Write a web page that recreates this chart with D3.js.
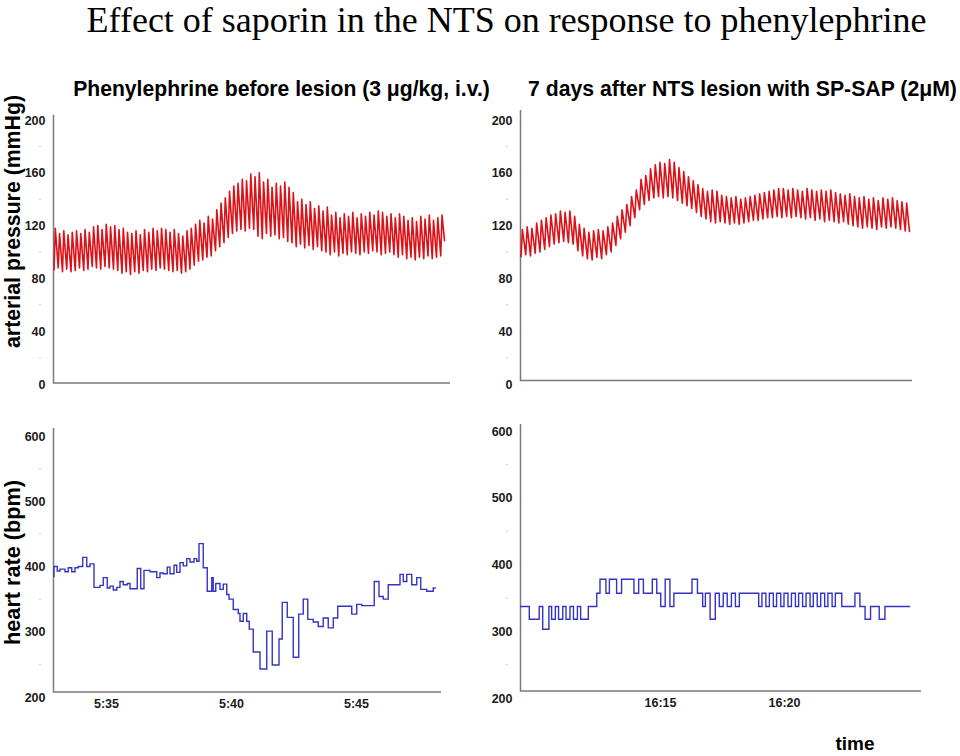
<!DOCTYPE html>
<html><head><meta charset="utf-8">
<script src="https://cdn.jsdelivr.net/npm/d3@7"></script>
<style>body{margin:0;background:#fff}svg{display:block}</style>
</head><body>
<svg id="c" width="960" height="756"></svg>
<script>
// ---------- data ----------
const bpTicks = [0, 40, 80, 120, 160, 200];
const bpMinor = [20, 60, 100, 140, 180];
const hrTicks = [200, 300, 400, 500, 600];
const hrMinor = [250, 350, 450, 550];
const leftTimeTicks = [35, 40, 45];
const leftTimeLabels = ["5:35", "5:40", "5:45"];
const rightTimeTicks = [15, 20];
const rightTimeLabels = ["16:15", "16:20"];

// arterial pressure, per beat: systolic peaks and diastolic troughs (mmHg)
const bpLeftSys = [118,114,116,113,115,116,114,117,115,119,120,117,121,119,120,117,118,115,114,116,
  113,117,115,118,116,118,117,115,117,114,112,116,118,121,124,122,127,125,132,137,
  141,146,150,152,155,154,159,157,160,153,155,149,152,150,153,149,145,138,140,136,
  138,133,135,131,134,128,130,126,129,127,130,126,129,127,130,128,131,130,127,129,
  126,129,127,124,126,123,127,125,128,124,126,128];
const bpLeftDia = [86,88,85,87,85,86,88,86,87,89,88,87,89,88,87,86,84,85,83,85,
  84,86,85,87,86,88,87,86,85,86,84,85,87,90,93,94,96,97,101,104,
  107,111,114,116,117,116,118,117,112,110,114,112,113,110,111,108,107,104,106,103,
  105,102,104,101,100,98,100,97,99,98,100,99,98,100,99,101,100,98,99,100,
  98,96,98,95,96,94,96,95,97,95,96,97];
const bpLeftEnd = 108;
const bpRightSys = [117,119,118,122,124,126,128,129,131,130,131,127,121,118,115,116,117,116,119,122,
  127,132,136,142,147,155,158,163,166,168,167,170,168,164,161,157,154,151,148,146,
  147,146,143,142,141,142,140,141,142,143,144,145,146,147,148,148,147,148,147,146,
  148,147,146,147,146,147,145,144,143,144,142,141,142,140,141,139,141,140,141,139,
  138,137];
const bpRightDia = [96,98,97,99,100,102,104,106,107,108,107,106,101,97,95,94,96,95,98,100,
  105,110,115,120,126,132,136,139,141,142,141,142,141,139,137,135,133,130,127,125,
  123,122,123,122,121,122,121,122,123,124,124,125,126,126,127,126,127,126,127,126,
  125,126,124,125,123,124,123,122,123,121,120,119,118,119,118,117,119,118,119,118,
  117,116];
const bpRightEnd = 115;

// heart rate steps: time (minutes past the hour) and value (bpm)
const hrLeftT = [32.89,32.92,33.05,33.16,33.36,33.49,33.63,33.76,33.89,34.07,34.23,34.36,34.52,34.76,34.89,
  35.05,35.16,35.29,35.43,35.56,35.69,35.85,35.96,36.25,36.39,36.52,36.76,37.03,37.16,37.29,37.45,37.56,
  37.72,37.83,37.96,38.09,38.23,38.36,38.52,38.63,38.72,38.89,39.05,39.23,39.29,39.39,39.56,39.69,39.83,
  39.92,40.09,40.29,40.36,40.49,40.63,40.73,40.89,41.16,41.43,41.65,41.92,42.05,42.25,42.49,42.71,42.89,
  43.07,43.29,43.49,43.69,43.89,44.09,44.27,44.83,45.03,45.23,45.73,45.92,46.09,46.29,46.76,46.89,47.03,
  47.23,47.43,47.59,47.83,48.09,48.19];
const hrLeftV = [385,400,393,396,392,398,392,398,400,414,400,404,368,371,383,367,370,364,368,377,372,374,366,
  397,366,394,392,383,390,389,399,389,402,391,406,401,412,407,412,408,435,398,362,383,362,374,365,373,357,
  350,334,328,316,328,316,304,269,243,301,249,289,345,322,261,327,350,319,315,308,321,306,321,339,327,342,
  340,377,354,350,372,388,377,388,372,383,365,362,367,367];
const hrRightT = [9.355,9.73,10.13,10.27,10.52,10.63,10.78,10.91,11.08,11.21,11.37,11.51,11.67,11.80,12.11,
  12.45,12.58,12.82,12.96,13.25,13.45,13.95,14.14,14.33,14.69,14.87,15.03,15.21,15.40,15.56,16.29,16.51,
  16.72,16.83,17.02,17.23,17.39,17.55,17.71,17.88,18.04,18.20,18.98,19.11,19.27,19.41,19.57,19.70,19.87,
  20.00,20.16,20.30,20.46,20.59,20.75,20.89,21.05,21.18,21.34,21.48,21.64,21.77,21.94,22.07,22.33,22.86,
  23.06,23.27,23.49,23.84,24.07,25.08];
const hrRightV = [337,318,337,303,337,318,337,318,337,318,337,318,337,318,337,357,378,357,378,357,378,357,
  378,357,378,357,337,378,337,357,378,357,337,357,318,357,337,357,337,357,337,357,337,357,337,357,337,357,
  337,357,337,357,337,357,337,357,337,357,337,357,337,357,337,357,337,357,337,318,337,318,337,337];

// ---------- drawing ----------
const svg = d3.select("#c");
const SANS = "'Liberation Sans', Arial, Helvetica, sans-serif";
const RED = "#dc1219", BLUE = "#3434c4", AXIS = "#7a7a7a";

function fit(sel, target) {
  const len = sel.node().getComputedTextLength();
  sel.attr("font-size", parseFloat(sel.attr("font-size")) * target / len);
}

// main title
fit(svg.append("text").attr("x", 506.5).attr("y", 32).attr("text-anchor", "middle")
  .attr("font-family", "'Liberation Serif', 'Times New Roman', serif").attr("font-size", 32)
  .text("Effect of saporin in the NTS on response to phenylephrine"), 840);

// panel titles
fit(svg.append("text").attr("x", 281.5).attr("y", 96).attr("text-anchor", "middle")
  .attr("font-family", SANS).attr("font-weight", "bold").attr("font-size", 19)
  .text("Phenylephrine before lesion (3 \u03BCg/kg, i.v.)"), 417);
fit(svg.append("text").attr("x", 742.5).attr("y", 96).attr("text-anchor", "middle")
  .attr("font-family", SANS).attr("font-weight", "bold").attr("font-size", 19)
  .text("7 days after NTS lesion with SP-SAP (2\u03BCM)"), 429);

// rotated y titles
fit(svg.append("text").attr("transform", "translate(20,221.5) rotate(-90)").attr("text-anchor", "middle")
  .attr("font-family", SANS).attr("font-weight", "bold").attr("font-size", 24)
  .text("arterial pressure (mmHg)"), 253);
fit(svg.append("text").attr("transform", "translate(20,562.5) rotate(-90)").attr("text-anchor", "middle")
  .attr("font-family", SANS).attr("font-weight", "bold").attr("font-size", 24)
  .text("heart rate (bpm)"), 165);

svg.append("text").attr("x", 855).attr("y", 750).attr("text-anchor", "middle")
  .attr("font-family", SANS).attr("font-weight", "bold").attr("font-size", 19).text("time");

function yAxis(scale, ticks, minor, ax) {
  const g = svg.append("g").attr("transform", `translate(${ax},0)`)
    .call(d3.axisLeft(scale).tickValues(ticks).tickSize(0).tickPadding(8).tickFormat(d3.format("d")));
  g.select(".domain").remove();
  g.selectAll("text").attr("font-family", SANS).attr("font-weight", "bold")
    .attr("font-size", 12.5).attr("fill", "#1a1a1a");
  svg.append("g").selectAll("circle").data(minor).join("circle")
    .attr("cx", ax - 13.5).attr("cy", d => scale(d)).attr("r", 0.7).attr("fill", "#b0b0b0");
}
function frame(ax, yTop, yBot, xEnd) {
  svg.append("path").attr("d", `M${ax},${yTop}V${yBot}H${xEnd}`)
    .attr("fill", "none").attr("stroke", AXIS).attr("stroke-width", 1.5);
}
function xAxis(scale, ticks, labels, yLine) {
  const g = svg.append("g").attr("transform", `translate(0,${yLine})`)
    .call(d3.axisBottom(scale).tickValues(ticks).tickSize(0).tickPadding(7)
      .tickFormat((d, i) => labels[i]));
  g.select(".domain").remove();
  g.selectAll("text").attr("font-family", SANS).attr("font-weight", "bold")
    .attr("font-size", 12.5).attr("fill", "#1a1a1a");
}
function bpTrace(sys, dia, end, xb, y) {
  const pts = [];
  sys.forEach((s, i) => { pts.push([i, dia[i]]); pts.push([i + 0.3, s]); });
  pts.push([sys.length - 0.1, end]);
  svg.append("path").attr("d", d3.line().x(d => xb(d[0])).y(d => y(d[1]))(pts))
    .attr("fill", "none").attr("stroke", RED).attr("stroke-width", 1.6).attr("stroke-linejoin", "round");
}
function hrTrace(T, V, x, y) {
  const pts = T.map((t, i) => [t, V[i]]);
  svg.append("path").attr("d", d3.line().curve(d3.curveStepAfter).x(d => x(d[0])).y(d => y(d[1]))(pts))
    .attr("fill", "none").attr("stroke", BLUE).attr("stroke-width", 1.4);
}

// ---- top-left: arterial pressure before lesion
const yBP_L = d3.scaleLinear().domain([0, 200]).range([384, 120]);
frame(53.5, 115, 383, 450);
yAxis(yBP_L, bpTicks, bpMinor, 53.5);
bpTrace(bpLeftSys, bpLeftDia, bpLeftEnd, d3.scaleLinear().domain([0, bpLeftSys.length]).range([54, 445]), yBP_L);

// ---- top-right: arterial pressure after lesion
const yBP_R = d3.scaleLinear().domain([0, 200]).range([384, 120]);
frame(520.5, 110, 380.5, 912);
yAxis(yBP_R, bpTicks, bpMinor, 520.5);
bpTrace(bpRightSys, bpRightDia, bpRightEnd, d3.scaleLinear().domain([0, bpRightSys.length]).range([521, 910]), yBP_R);

// ---- bottom-left: heart rate before lesion
const xL = d3.scaleLinear().domain([35, 45]).range([106, 356]);
const yHR_L = d3.scaleLinear().domain([200, 600]).range([697, 436]);
frame(53.5, 428, 692, 441);
yAxis(yHR_L, hrTicks, hrMinor, 53.5);
xAxis(xL, leftTimeTicks, leftTimeLabels, 692);
hrTrace(hrLeftT, hrLeftV, xL, yHR_L);

// ---- bottom-right: heart rate after lesion
const xR = d3.scaleLinear().domain([15, 20]).range([660, 784]);
const yHR_R = d3.scaleLinear().domain([200, 600]).range([698, 431]);
frame(520.5, 424, 691, 921);
yAxis(yHR_R, hrTicks, hrMinor, 520.5);
xAxis(xR, rightTimeTicks, rightTimeLabels, 691);
hrTrace(hrRightT, hrRightV, xR, yHR_R);
</script>
</body></html>
